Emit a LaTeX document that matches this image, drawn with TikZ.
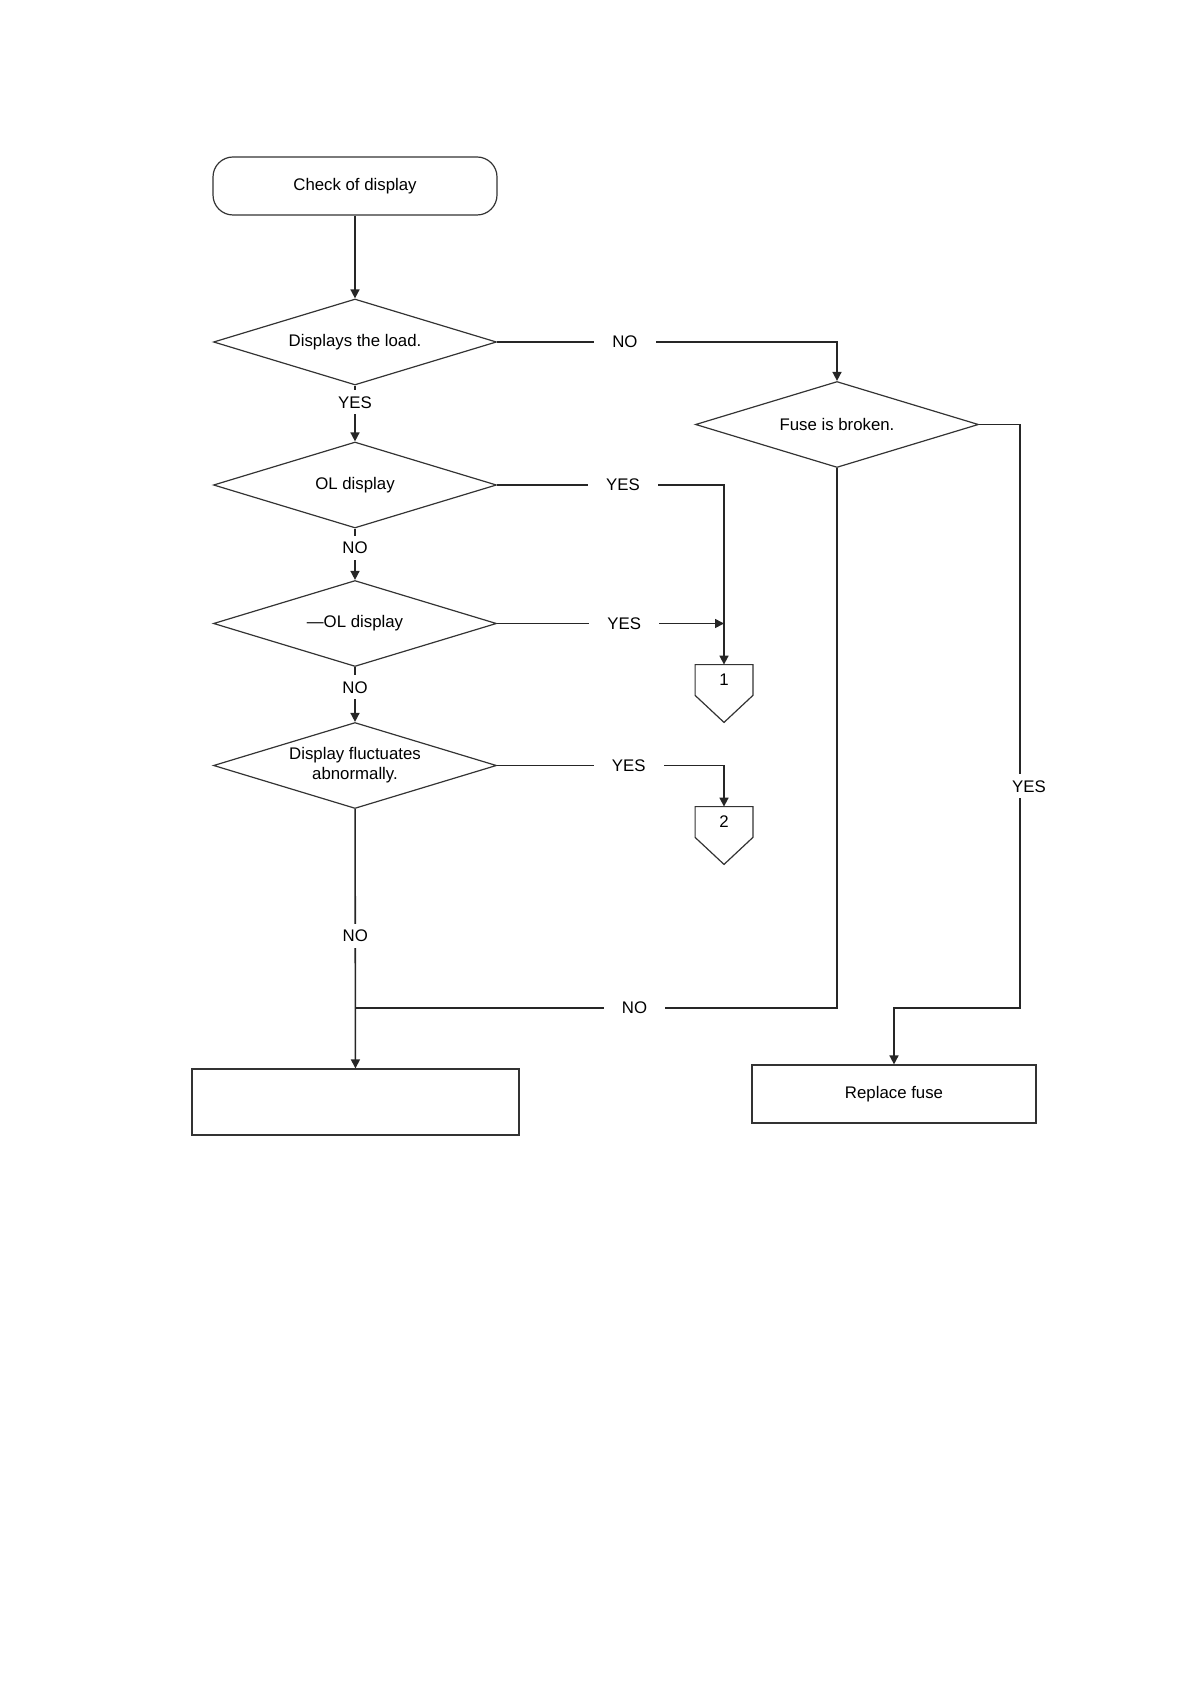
\documentclass[tikz,border=0pt]{standalone}
\usepackage{fontspec}
\setmainfont{Liberation Sans}
\usetikzlibrary{arrows.meta,positioning,calc,shapes.geometric}

\begin{document}
\begin{tikzpicture}[x=0.5pt, y=-0.5pt,
    every node/.style={font=\fontsize{8.4}{10}\selectfont},
    startbox/.style={draw=black!80, line width=0.6pt, rounded corners=10pt,
      minimum width=142pt, minimum height=29pt},
    decision/.style={diamond, draw=black!80, line width=0.6pt, aspect=3.3,
      inner sep=0pt, minimum width=141.5pt, minimum height=43pt, align=center},
    actionbox/.style={draw=black!80, line width=0.6pt, minimum width=142pt,
      minimum height=29pt},
    offpage/.style={minimum width=28.5pt, minimum height=15pt, inner sep=0pt},
    lbl/.style={fill=white, inner xsep=9pt, inner ysep=3pt},
    wire/.style={draw=black!85, line width=0.8pt},
    flow/.style={wire, -{Triangle[length=4.5pt,width=4.5pt]}}]
  \useasboundingbox (0,0) rectangle (1190,1684);
  %% boxes
  \node[startbox] (start) at (355,186) {Check of display};
  \node[decision] (load) at (355,342) {Displays the load.};
  \node[decision] (ol) at (355,485) {OL display};
  \node[decision] (negol) at (355,623.5) {—OL display};
  \node[decision] (fluct) at (355,765.5) {Display fluctuates\\abnormally.};
  \node[decision] (fuse) at (837,424.5) {Fuse is broken.};
  \node[offpage] (one) at (724,680) {1};
  \node[offpage] (two) at (724,822) {2};
  \node[actionbox, minimum width=163.5pt, minimum height=33pt] (blank) at (355.5,1102) {};
  \node[actionbox] (replace) at (894,1094) {Replace fuse};
  \foreach \c in {one,two}
    \draw[black!80, line width=0.6pt] (\c.south west) -- (\c.north west)
      -- (\c.north east) -- (\c.south east) -- ($(\c.south)+(0,27)$) -- cycle;
  %% main column
  \draw[flow] (start) -- (load);
  \draw[flow] (load) -- node[lbl,pos=0.3] {YES} (ol);
  \draw[flow] (ol) -- node[lbl,pos=0.37] {NO} (negol);
  \draw[flow] (negol) -- node[lbl,pos=0.37] {NO} (fluct);
  \draw[flow] (fluct) -- node[lbl,pos=0.49] {NO} (blank);
  %% branches to the right
  \draw[flow] (load.east) -- node[lbl,pos=0.376] {NO} (load.east -| fuse.north) -- (fuse.north);
  \draw[flow] (ol.east) -- node[lbl,pos=0.555] {YES} (ol.east -| one.north) -- (one.north);
  \draw[flow] (negol.east) -- node[lbl,pos=0.56] {YES} (negol.east -| one.north);
  \draw[flow] (fluct.east) -- node[lbl,pos=0.58] {YES} (fluct.east -| two.north) -- (two.north);
  %% fuse branches
  \coordinate (join) at (355,1008);
  \coordinate (fuseturn) at (1020,1008);
  \draw[wire] (fuse.south) -- (fuse.south |- join) -- node[lbl,pos=0.42] {NO} (join);
  \draw[flow] (fuse.east) -- (fuse.east -| fuseturn)
    -- node[lbl,pos=0.62,xshift=4.5pt] {YES} (fuseturn)
    -- (fuseturn -| replace.north) -- (replace.north);
\end{tikzpicture}
\end{document}
